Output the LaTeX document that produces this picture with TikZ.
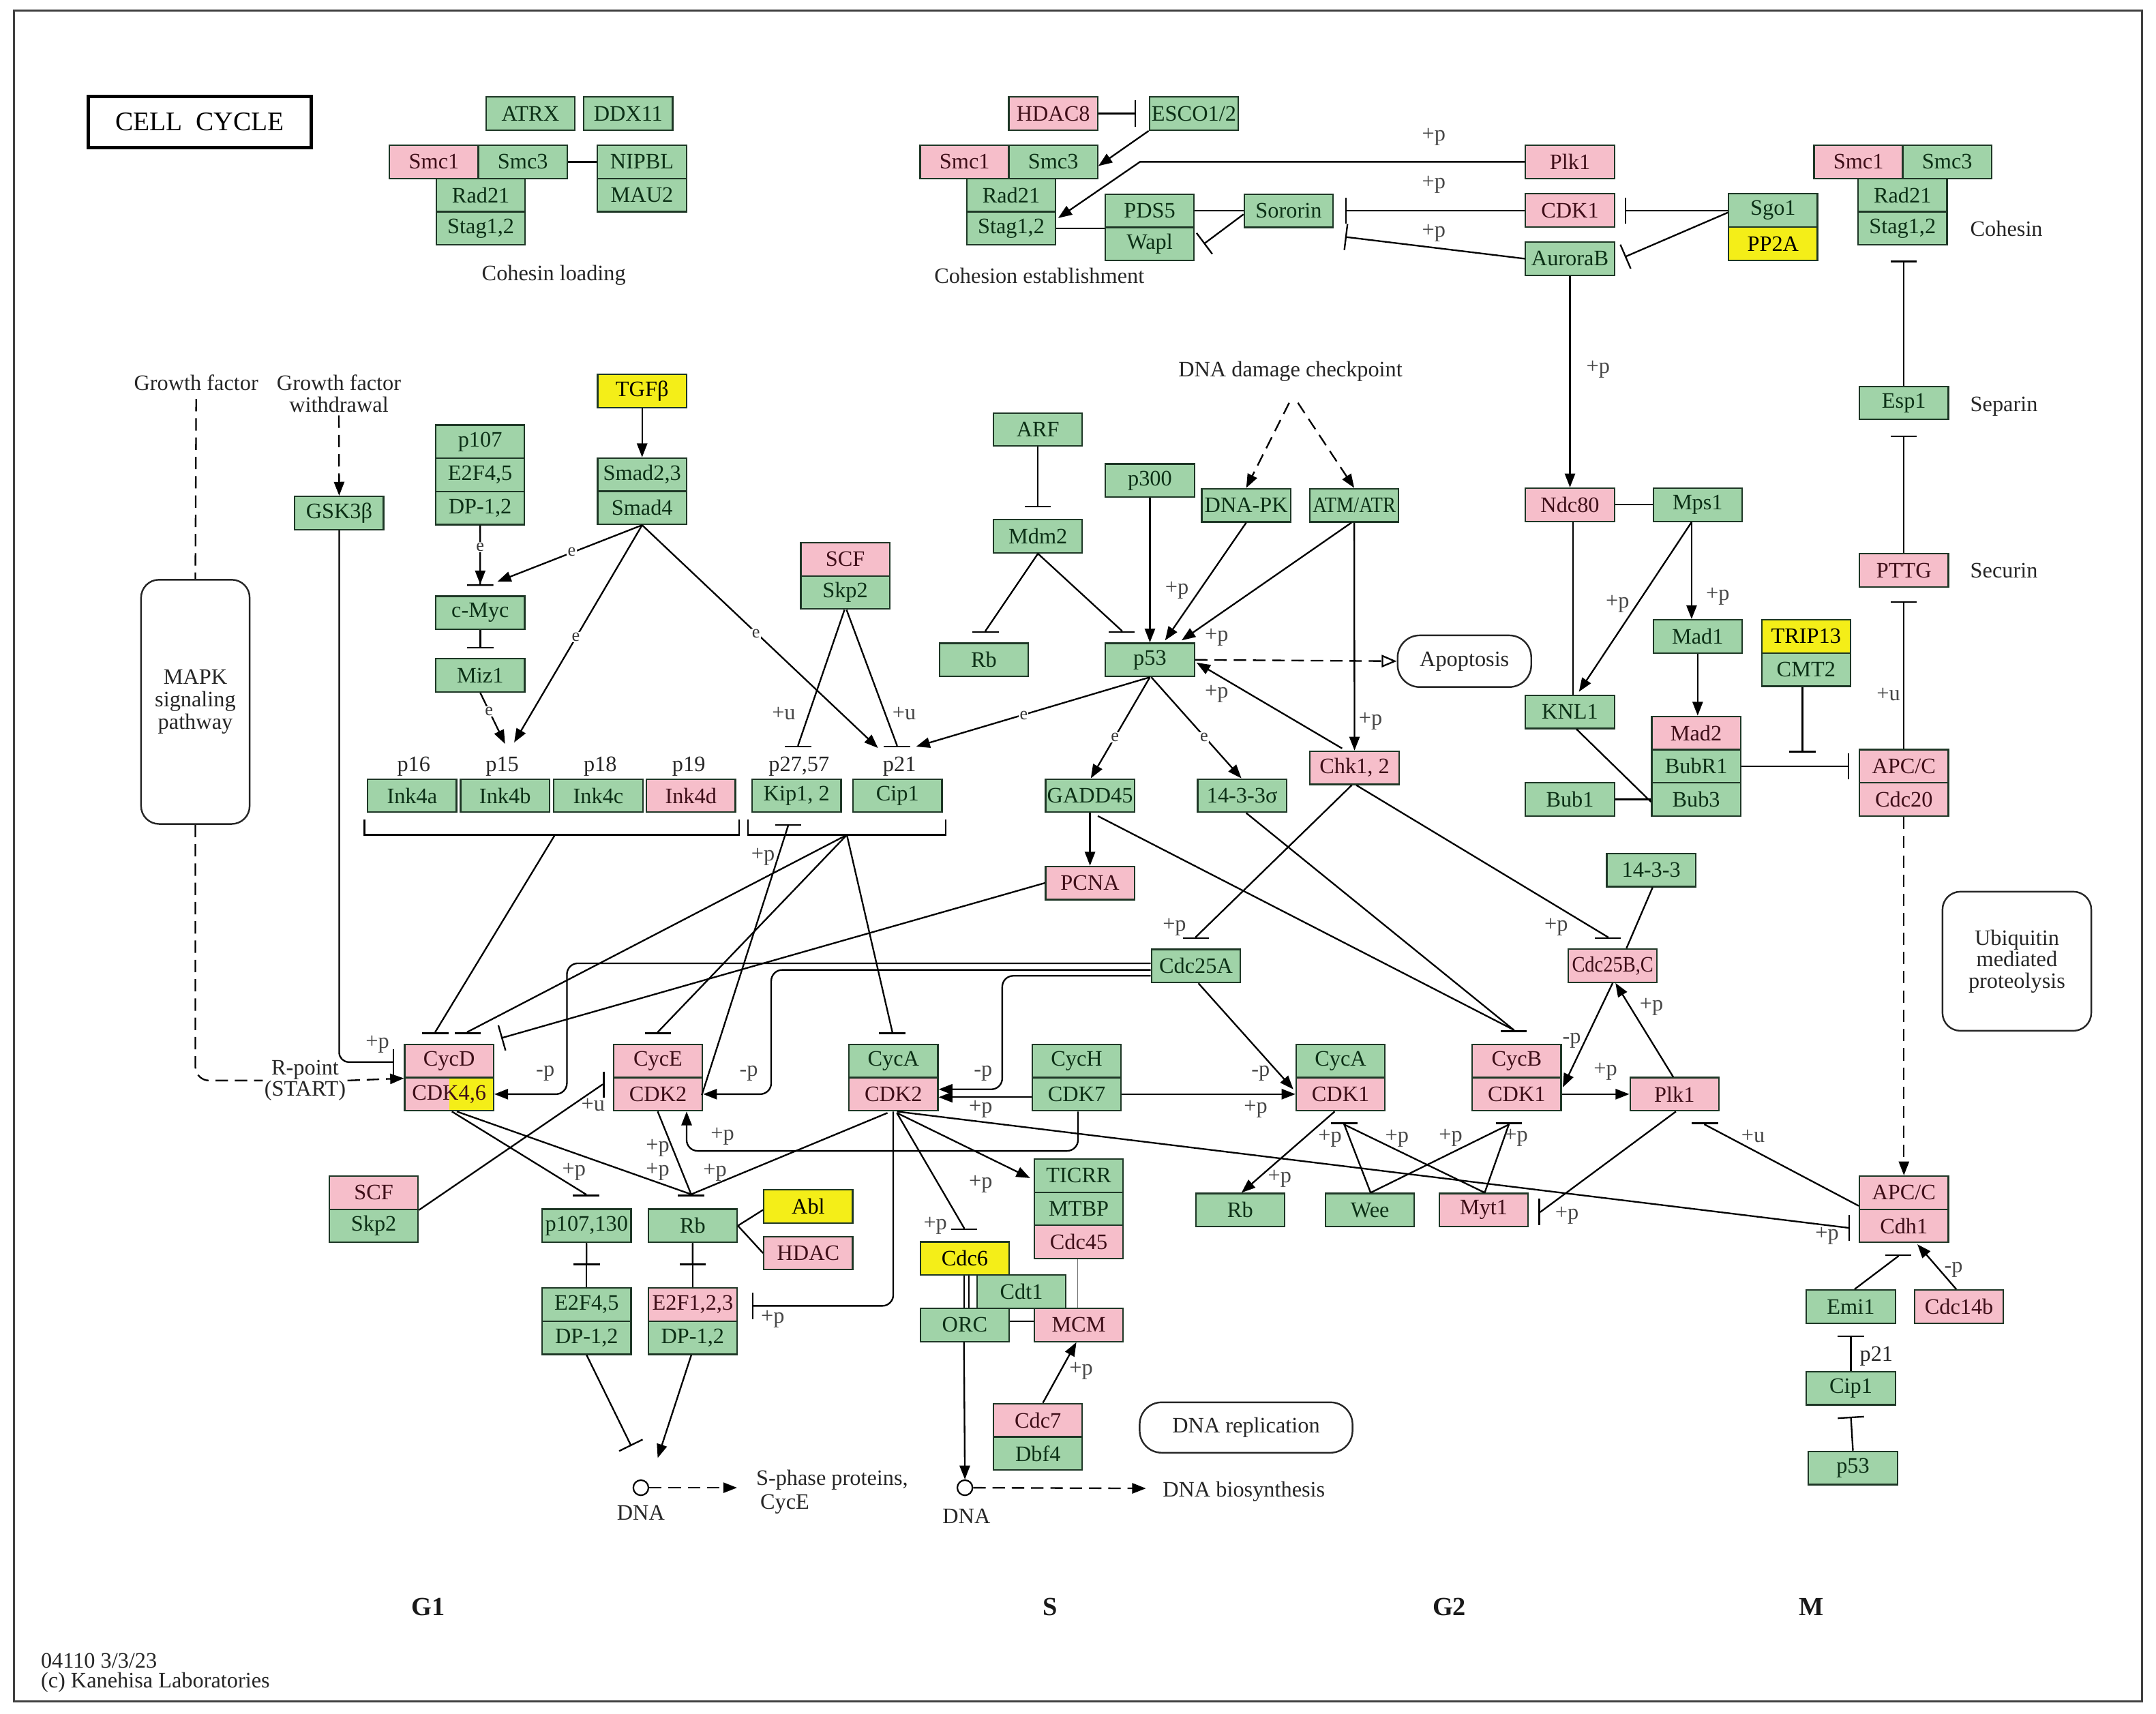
\documentclass[tikz,border=0pt]{standalone}
\usepackage{fontspec}
\setmainfont{Liberation Serif}
\usepackage{graphicx}
\usetikzlibrary{arrows.meta,calc}
\definecolor{gfill}{RGB}{160,211,168}
\definecolor{pfill}{RGB}{246,190,202}
\definecolor{yfill}{RGB}{244,238,24}
\definecolor{bd}{RGB}{30,55,38}
\definecolor{gtx}{RGB}{12,48,22}
\definecolor{ptx}{RGB}{62,14,24}
\newcommand\boxfs{\fontsize{16}{16}\selectfont}
\newcommand\ibarT[2]{\draw[inh] #1 -- ($(#2)+(0,-1.5)$) -- (#2);}
\newcommand\ibarB[2]{\draw[inh] #1 -- ($(#2)+(0,1.5)$) -- (#2);}
\newcommand\ibarL[2]{\draw[inh] #1 -- ($(#2)+(-1.5,0)$) -- (#2);}
\newcommand\ibarR[2]{\draw[inh] #1 -- ($(#2)+(1.5,0)$) -- (#2);}
\tikzset{
 bx/.style={draw=bd, line width=1.1pt, minimum width=64.5pt, minimum height=24.1pt, inner sep=0pt, font=\boxfs},
 gbx/.style={bx, fill=gfill, text=gtx},
 pbx/.style={bx, fill=pfill, text=ptx},
 ybx/.style={bx, fill=yfill, text=black},
 ed/.style={line width=1.15pt, draw=black},
 act/.style={ed, -{Triangle[length=10pt,width=7.5pt]}},
 inh/.style={ed, -{Bar[width=19pt]}},
 apo/.style={ed, -{Triangle[open,length=11pt,width=9pt]}},
 dsh/.style={dash pattern=on 9pt off 5pt},
 lab/.style={font=\boxfs, text=black!72, inner sep=0pt},
 el/.style={font=\fontsize{13}{13}\selectfont, text=black!78, fill=white, inner sep=0.6pt},
 txt/.style={font=\boxfs, text=black!85, inner sep=0pt, align=center},
 rbox/.style={draw=black!85, line width=1.2pt, rounded corners=13pt, font=\fontsize{16}{16.4}\selectfont, text=black!85, align=center, inner sep=0pt},
 phase/.style={font=\fontsize{19}{19}\selectfont\bfseries, text=black!90, inner sep=0pt},
}
\begin{document}
\begin{tikzpicture}[x=1pt,y=-1pt]
\useasboundingbox (0,0) rectangle (1565,1243.8);
\draw[line width=1.4pt, black!75] (10,7.5) rectangle (1555,1235);
\node[draw=black, line width=2.5pt, minimum width=162pt, minimum height=37pt, inner sep=0pt, font=\fontsize{19.5}{20}\selectfont] (title) at (145,88.5) {CELL\ \ CYCLE};

% ---------- cohesin loading
\node[gbx] (atrx) at (385,82.4) {ATRX};
\node[gbx] (ddx) at (456,82.4) {DDX11};
\node[pbx] (smcA) at (315,117.5) {Smc1};
\node[gbx] (smcB) at (379.5,117.5) {Smc3};
\node[gbx] (radA) at (349,141.6) {Rad21};
\node[gbx] (stagA) at (349,165.7) {Stag1,2};
\node[gbx] (nipbl) at (466,117.5) {NIPBL};
\node[gbx] (mau) at (466,141.6) {MAU2};
\node[txt] (tcl) at (402,200) {Cohesin loading};

% ---------- cohesion establishment
\node[pbx] (hdac8) at (764.5,82.4) {HDAC8};
\node[gbx] (esco) at (866.6,82.4) {ESCO1/2};
\node[pbx] (smcC) at (700.2,117.5) {Smc1};
\node[gbx] (smcD) at (764.5,117.5) {Smc3};
\node[gbx] (radB) at (734,141.6) {Rad21};
\node[gbx] (stagB) at (734,165.7) {Stag1,2};
\node[gbx] (pds5) at (834.5,153) {PDS5};
\node[gbx] (wapl) at (834.5,177.1) {Wapl};
\node[gbx] (soro) at (935.4,153) {Sororin};
\node[txt] (tce) at (754.4,200) {Cohesion establishment};

% ---------- top right
\node[pbx] (plkT) at (1139.6,117.5) {Plk1};
\node[pbx] (cdk1T) at (1139.6,152.8) {CDK1};
\node[gbx] (aurB) at (1139.6,187.8) {AuroraB};
\node[gbx] (sgo) at (1287,152.8) {Sgo1};
\node[ybx] (pp2a) at (1287,176.9) {PP2A};
\node[pbx] (smcE) at (1349,117.5) {Smc1};
\node[gbx] (smcF) at (1413.4,117.5) {Smc3};
\node[gbx] (radC) at (1381,141.6) {Rad21};
\node[gbx] (stagC) at (1381,165.7) {Stag1,2};
\node[txt, anchor=west] (tcoh) at (1430,166) {Cohesin};
\node[gbx] (esp) at (1382,292.5) {Esp1};
\node[txt, anchor=west] (tsep) at (1430,295) {Separin};
\node[pbx] (pttg) at (1382,414) {PTTG};
\node[txt, anchor=west] (tsec) at (1430,414) {Securin};

\node[pbx] (ndc) at (1139.6,366.4) {Ndc80};
\node[gbx] (mps) at (1232.3,366.4) {Mps1};
\node[gbx] (mad1) at (1232.3,462) {Mad1};
\node[ybx] (trip) at (1311,462) {TRIP13};
\node[gbx] (cmt) at (1311,486.1) {CMT2};
\node[gbx] (knl) at (1139.6,516.8) {KNL1};
\node[pbx] (mad2) at (1231.2,532.1) {Mad2};
\node[gbx] (bubr) at (1231.2,556.2) {BubR1};
\node[gbx] (bub3) at (1231.2,580.3) {Bub3};
\node[gbx] (bub1) at (1139.6,580.3) {Bub1};
\node[pbx] (apcA) at (1382,556.2) {APC/C};
\node[pbx] (cdc20) at (1382,580.3) {Cdc20};
\node[rbox, minimum width=97pt, minimum height=37.5pt, rounded corners=16pt] (apop) at (1063,480) {Apoptosis};
\node[rbox, minimum width=108pt, minimum height=101pt, font=\fontsize{16}{15.6}\selectfont] (ubi) at (1464,697.8) {Ubiquitin\\mediated\\proteolysis};

% ---------- left
\node[txt] (gf) at (142.4,277.7) {Growth factor};
\node[txt, font=\fontsize{16}{16.1}\selectfont] (gfw) at (246,285.7) {Growth factor\\withdrawal};
\node[rbox, minimum width=78.8pt, minimum height=177.3pt] (mapk) at (141.8,509.5) {MAPK\\signaling\\pathway};
\node[gbx] (gsk) at (246.2,372.4) {GSK3β};
\node[ybx] (tgfb) at (466.1,283.9) {TGFβ};
\node[gbx] (smad23) at (466.1,344.5) {Smad2,3};
\node[gbx] (smad4) at (466.1,368.6) {Smad4};
\node[gbx] (p107u) at (348.5,320.6) {p107};
\node[gbx] (e2f45u) at (348.5,344.7) {E2F4,5};
\node[gbx] (dpu) at (348.5,368.8) {DP-1,2};
\node[gbx] (cmyc) at (348.6,444.9) {c-Myc};
\node[gbx] (miz) at (348.6,490.3) {Miz1};
\node[txt, font=\fontsize{16}{15.6}\selectfont, inner sep=1pt] (rpt) at (221.5,784.4) {R-point\\(START)};

% ---------- middle upper
\node[pbx] (scfU) at (613.5,406) {SCF};
\node[gbx] (skpU) at (613.5,430.1) {Skp2};
\node[gbx] (ink4a) at (299.1,577.6) {Ink4a};
\node[gbx] (ink4b) at (366.6,577.6) {Ink4b};
\node[gbx] (ink4c) at (434.3,577.6) {Ink4c};
\node[pbx] (ink4d) at (501.5,577.6) {Ink4d};
\node[gbx] (kip) at (578.2,577.6) {Kip1, 2};
\node[gbx] (cip) at (651.5,577.6) {Cip1};
\node[txt] (t16) at (300.3,556.4) {p16};
\node[txt] (t15) at (364.6,556.4) {p15};
\node[txt] (t18) at (435.7,556.4) {p18};
\node[txt] (t19) at (500,556.4) {p19};
\node[txt] (t27) at (580,556.4) {p27,57};
\node[txt] (t21) at (652.9,556.4) {p21};
\node[gbx] (gadd) at (791.2,577.6) {GADD45};
\node[pbx] (pcna) at (791.2,641) {PCNA};
\node[gbx] (k1433s) at (901.6,577.6) {14-3-3σ};
\node[gbx] (rbM) at (714.2,479) {Rb};
\node[gbx] (p53) at (834.7,479) {p53};
\node[gbx] (mdm2) at (753.4,389.3) {Mdm2};
\node[gbx] (arf) at (753.4,311.8) {ARF};
\node[gbx] (p300) at (834.7,348.8) {p300};
\node[gbx] (dnapk) at (904.6,366.8) {DNA-PK};
\node[gbx] (atm) at (983,366.8) {\scalebox{0.88}[1]{ATM/ATR}};
\node[pbx] (chk) at (983.2,557.4) {Chk1, 2};
\node[gbx] (cdc25a) at (868.1,701.2) {Cdc25A};
\node[txt] (ddc) at (936.7,269.6) {DNA damage checkpoint};
\coordinate (ddcA) at (935.8,292.4);
\coordinate (ddcB) at (942.1,292.4);

% ---------- CDK complexes
\node[pbx] (cycD) at (326,770.2) {CycD};
\node[bx, text=ptx, path picture={
  \fill[pfill] (path picture bounding box.south west) rectangle (path picture bounding box.north);
  \fill[yfill] (path picture bounding box.south) rectangle (path picture bounding box.north east);}] (cdk46) at (326,794.3) {CDK4,6};
\node[pbx] (cycE) at (477.6,770.2) {CycE};
\node[pbx] (cdk2E) at (477.6,794.3) {CDK2};
\node[gbx] (cycAs) at (648.5,770.2) {CycA};
\node[pbx] (cdk2S) at (648.5,794.3) {CDK2};
\node[gbx] (cycH) at (781.5,770.2) {CycH};
\node[gbx] (cdk7) at (781.5,794.3) {CDK7};
\node[gbx] (cycAg) at (973.1,770.2) {CycA};
\node[pbx] (cdk1A) at (973.1,794.3) {CDK1};
\node[pbx] (cycB) at (1100.9,770.2) {CycB};
\node[pbx] (cdk1B) at (1100.9,794.3) {CDK1};
\node[pbx] (plkB) at (1215.5,794.3) {Plk1};
\node[gbx] (k1433) at (1198.6,631.6) {14-3-3};
\node[pbx] (cdc25bc) at (1170.6,701) {\scalebox{0.88}[1]{Cdc25B,C}};

% ---------- lower
\node[pbx] (scfL) at (271.3,865.8) {SCF};
\node[gbx] (skpL) at (271.3,889.9) {Skp2};
\node[gbx] (p107) at (425.8,889.8) {p107,130};
\node[gbx] (rbG1) at (502.8,889.8) {Rb};
\node[gbx] (e2f45) at (425.8,947) {E2F4,5};
\node[gbx] (dpA) at (425.8,971.1) {DP-1,2};
\node[pbx] (e2f123) at (502.8,947) {E2F1,2,3};
\node[gbx] (dpB) at (502.8,971.1) {DP-1,2};
\node[ybx] (abl) at (586.7,875.7) {Abl};
\node[pbx] (hdac) at (586.7,909.7) {HDAC};
\node[gbx] (ticrr) at (783,853.4) {TICRR};
\node[gbx] (mtbp) at (783,877.5) {MTBP};
\node[pbx] (cdc45) at (783,901.6) {Cdc45};
\node[ybx] (cdc6) at (700.3,913.6) {Cdc6};
\node[gbx] (cdt1) at (741.4,937.7) {Cdt1};
\node[gbx] (orc) at (700.3,961.8) {ORC};
\node[pbx] (mcm) at (783,961.8) {MCM};
\node[pbx] (cdc7) at (753.4,1031) {Cdc7};
\node[gbx] (dbf4) at (753.4,1055.1) {Dbf4};
\node[rbox, minimum width=154.5pt, minimum height=36.6pt, rounded corners=16pt] (dnarep) at (904.5,1036.3) {DNA replication};
\node[gbx] (rbG2) at (900.2,878.4) {Rb};
\node[gbx] (wee) at (994.4,878.4) {Wee};
\node[pbx] (myt) at (1077,878.4) {Myt1};
\node[pbx] (apcB) at (1382,865.8) {APC/C};
\node[pbx] (cdh1) at (1382,889.9) {Cdh1};
\node[gbx] (emi) at (1343.5,948.5) {Emi1};
\node[pbx] (cdc14) at (1422,948.5) {Cdc14b};
\node[gbx] (cipM) at (1343.5,1007.8) {Cip1};
\node[txt] (t21M) at (1362,984.3) {p21};
\node[gbx] (p53M) at (1345,1065.7) {p53};

\node[circle, draw=black, line width=1.1pt, minimum size=11pt, inner sep=0pt] (dnaG) at (465.2,1080) {};
\node[txt] (tdnaG) at (465.2,1098) {DNA};
\node[circle, draw=black, line width=1.1pt, minimum size=11pt, inner sep=0pt] (dnaS) at (700.4,1080) {};
\node[txt] (tdnaS) at (701.5,1100.7) {DNA};
\node[txt, anchor=west, align=left, font=\fontsize{16}{17.3}\selectfont] (sph) at (548.7,1083) {S-phase proteins,\\\hspace{3pt}CycE};
\coordinate (sphin) at (535,1080);
\node[txt, anchor=west] (dnab) at (843.8,1083) {DNA biosynthesis};

\node[phase] (g1) at (310.7,1166.5) {G1};
\node[phase] (ps) at (762.2,1166.5) {S};
\node[phase] (g2) at (1052,1166.5) {G2};
\node[phase] (pm) at (1314.6,1166.5) {M};
\node[txt, anchor=west] (foot1) at (29.5,1205.4) {04110 3/3/23};
\node[txt, anchor=west] (foot2) at (29.5,1221.2) {(c) Kanehisa Laboratories};

% ---------- brackets
\draw[ed] (264.6,594.8) -- (264.6,606.1) -- (536.4,606.1) -- (536.4,594.8);
\draw[ed] (542.8,594.8) -- (542.8,606.1) -- (686.5,606.1) -- (686.5,594.8);
\coordinate (ink4br) at (402.8,606.1);
\coordinate (kipbr) at (614.7,606.1);

% ---------- edges: cohesin
\draw[ed] (smcB.east) -- (nipbl.west);
\draw[inh] (hdac8.east) -- ($(esco.west)+(-9,0)$);
\draw[act] (esco.south west) -- ($(smcD.east)+(0,3)$);
\draw[act] (plkT.west) -- (827.5,117.5) -- ($(stagB.east)+(1.3,-7.4)$);
\draw[ed] (stagB.east) -- (stagB.east -| pds5.west);
\draw[ed] (pds5.east) -- (soro.west);
\draw[inh] ($(soro.west)+(0,2.6)$) -- ($(wapl.east)+(6.5,0)$);
\draw[inh] (cdk1T.west) -- ($(soro.east)+(8.2,-0.2)$);
\draw[inh] (aurB.west) -- ($(soro.east)+(8.2,19)$);
\draw[inh] (sgo.west) -- ($(cdk1T.east)+(7,0)$);
\draw[inh] ($(sgo.west)+(0,1.5)$) -- ($(aurB.east)+(7,-1.3)$);
\draw[act] (aurB.south) -- (ndc.north);
\draw[inh] (esp.north) -- ($(stagC.south)+(1,11)$);
\draw[inh] (pttg.north) -- ($(esp.south)+(0,11)$);
\draw[inh] (apcA.north) -- ($(pttg.south)+(0,10)$);

% ---------- spindle checkpoint
\draw[ed] (ndc.east) -- (mps.west);
\draw[act] ($(mps.south)+(-4.4,0)$) -- ($(mad1.north)+(-4.4,0)$);
\draw[act] ($(mps.south)+(-4.4,0)$) -- ($(knl.north)+(6.5,-2)$);
\draw[ed] ($(ndc.south)+(2.3,0)$) -- ($(knl.north)+(2.3,0)$);
\draw[act] (mad1.south) -- (mad1.south |- mad2.north);
\draw[inh] ($(cmt.south)+(-2.7,0)$) -- ($(cmt.south)+(-2.7,47.5)$);
\draw[inh] (bubr.east) -- ($(apcA.west)+(-7,0)$);
\draw[ed] (bub1.east) -- (bub3.west);
\draw[ed] ($(knl.south)+(4.8,0)$) -- ($(bub3.west)+(0,1.8)$);
\draw[apo, dsh] (p53.east) -- (apop.west);
\draw[act, dsh] (cdc20.south) -- (apcB.north);

% ---------- G2/M
\draw[ed] ($(k1433.south)+(1,0)$) -- ($(cdc25bc.north)+(10,0)$);
\coordinate (bp25bc) at ($(cdc25bc.north)+(-3.6,-6.7)$);
\ibarT{($(chk.south)+(1.3,0)$)}{bp25bc}
\draw[act] (cdc25bc.south) -- ($(cdk1B.east)+(0.7,-5)$);
\draw[act] ($(plkB.north)+(-1,0)$) -- ($(cdc25bc.south)+(2,0)$);
\draw[act] (cdk1B.east) -- (plkB.west);
\coordinate (bpCycB) at ($(cycB.north)+(-2.2,-8.5)$);
\ibarT{($(k1433s.south)+(3,0)$)}{bpCycB}
\ibarT{($(gadd.south)+(5.7,2.2)$)}{bpCycB}
\coordinate (bpPlk) at ($(plkB.south)+(22,8)$);
\ibarB{($(apcB.west)+(0,9.6)$)}{bpPlk}
\coordinate (bpCdh) at ($(cdh1.west)+(-6.3,1.4)$);
\ibarL{($(cdk2S.south)+(2.6,0)$)}{bpCdh}
\coordinate (bpMyt) at ($(myt.east)+(7,1.3)$);
\ibarR{($(plkB.south)+(1,0)$)}{bpMyt}
\coordinate (bpCkB) at ($(cdk1B.south)+(-5.7,8)$);
\coordinate (bpCkA) at ($(cdk1A.south)+(2.7,8)$);
\ibarB{($(myt.north)+(0.7,0)$)}{bpCkB}
\ibarB{($(wee.north)+(0.5,0)$)}{bpCkB}
\ibarB{($(wee.north)+(0.5,0)$)}{bpCkA}
\ibarB{($(myt.north)+(0.7,0)$)}{bpCkA}
\coordinate (bpCdhB) at ($(cdh1.south)+(-4.2,8)$);
\ibarB{($(emi.north)+(2.7,0)$)}{bpCdhB}
\draw[act] ($(cdc14.north)+(-2,0)$) -- ($(cdh1.south)+(9.8,0.8)$);
\draw[inh] (cipM.north) -- ($(emi.south)+(0,8.5)$);
\draw[inh] (p53M.north) -- ($(cipM.south)+(0,8)$);

% ---------- CDK activation
\draw[act] (cdk7.east) -- (cdk1A.west);
\draw[act] ($(cdk7.west)+(0,2.2)$) -- ($(cdk2S.east)+(0,2.2)$);
\draw[act, rounded corners=8pt] ($(cdc25a.west)+(0,-1.9)$) -| ($(cdk46.east)+(52.7,0)$) -- (cdk46.east);
\draw[act, rounded corners=8pt] ($(cdc25a.west)+(0,2.9)$) -| ($(cdk2E.east)+(49.4,0)$) -- (cdk2E.east);
\draw[act, rounded corners=8pt] ($(cdc25a.west)+(0,7.2)$) -| ($(cdk2S.east)+(46.2,-3.5)$) -- ($(cdk2S.east)+(0,-3.5)$);
\draw[act] ($(cdc25a.south)+(1.8,0)$) -- ($(cdk1A.west)+(-1.5,-3.5)$);
\draw[act] ($(cdk1A.south)+(-4.3,0)$) -- ($(rbG2.north)+(1,0)$);
\draw[act, rounded corners=8pt] ($(cdk7.south)+(1,0)$) -- ++(0,28.6) -| ($(cdk2E.south)+(20.8,0)$);

% ---------- G1
\coordinate (bp107) at ($(p107.north)+(-0.5,-8.7)$);
\coordinate (bpRb) at ($(rbG1.north)+(-1.1,-8.7)$);
\ibarT{($(cdk46.south)+(2,0)$)}{bp107}
\ibarT{($(cdk46.south)+(5.6,0)$)}{bpRb}
\ibarT{($(cdk2E.south)+(-0.2,0)$)}{bpRb}
\ibarT{($(cdk2S.south)+(-4.3,1)$)}{bpRb}
\coordinate (bpE2) at ($(cycE.south west)+(-6,4.5)$);
\ibarL{(scfL.south east)}{bpE2}
\draw[ed] (p107.south) -- (e2f45.north);
\draw[inh] (p107.south) -- ($(p107.south)!0.5!(e2f45.north)$);
\draw[ed] (rbG1.south) -- (e2f123.north);
\draw[inh] (rbG1.south) -- ($(rbG1.south)!0.5!(e2f123.north)$);
\draw[inh] (dpA.south) -- ($(dnaG)+(-7,-30.3)$);
\draw[act] ($(dpB.south)+(-1,0)$) -- ($(dnaG)+(12.2,-21.6)$);
\draw[act, dsh] (dnaG.east) -- (sphin);
\draw[ed] (rbG1.east) -- ($(abl.west)+(0,2.6)$);
\draw[ed] (rbG1.east) -- (hdac.west);
\coordinate (bpE2F) at ($(e2f123.east)+(10.3,1)$);
\draw[inh, rounded corners=8pt] ($(cdk2S.south)+(-0.1,0)$) |- (bpE2F);
\draw[act] ($(cdk2S.south)+(2.5,1)$) -- ($(ticrr.west)+(-2.5,1.8)$);
\coordinate (bp6) at ($(cdc6.north)+(-0.6,-8.2)$);
\ibarT{($(cdk2S.south)+(2.5,1)$)}{bp6}
\draw[line width=0.6pt, black!55] ($(cdc45.south)+(-0.6,0)$) -- ($(mcm.north)+(-0.6,0)$);
\draw[ed] ($(cdc6.south)+(-0.6,0)$) -- ($(orc.north)+(-0.6,0)$);
\draw[ed] ($(cdc6.south)+(2.9,0)$) -- ($(orc.north)+(2.9,0)$);
\draw[act] ($(orc.south)+(-0.6,0)$) -- (dnaS.north);
\draw[act, dsh] (dnaS.east) -- ($(dnab.west)+(-12,-2.5)$);
\draw[act] ($(cdc7.north)+(3.6,0)$) -- ($(mcm.south)+(-1.7,0)$);
\draw[ed] ($(orc.east)+(0,-2.5)$) -- ($(mcm.west)+(0,-2.5)$);

% ---------- p53 / DNA damage
\draw[inh] (arf.south) -- ($(mdm2.north)+(0,-8.4)$);
\coordinate (bpRbM) at ($(rbM.north)+(1.2,-7)$);
\coordinate (bpP53) at ($(p53.north)+(-20.4,-7)$);
\ibarT{(mdm2.south)}{bpRbM}
\ibarT{(mdm2.south)}{bpP53}
\draw[act] (p300.south) -- (p53.north);
\draw[act, dsh] (ddcA) -- (dnapk.north);
\draw[act, dsh] (ddcB) -- (atm.north);
\draw[act] (dnapk.south) -- ($(p53.north)+(11,-1.5)$);
\draw[act] ($(atm.south)+(-2,0)$) -- ($(p53.north)+(23,-1.5)$);
\draw[act] (atm.south) -- (chk.north);
\draw[act] ($(chk.north)+(-9,-1.5)$) -- ($(p53.east)+(1,2)$);
\draw[act] (p53.south) -- ($(gadd.north)+(0.6,0)$);
\draw[act] ($(p53.south)+(1,0)$) -- ($(k1433s.north)+(-0.5,0)$);
\draw[act] (gadd.south) -- (pcna.north);
\coordinate (bp25a) at ($(cdc25a.north)+(0,-7)$);
\ibarT{($(chk.south)+(-2,0)$)}{bp25a}
\draw[inh] (pcna.west) -- ($(cycD.north east)+(5,-4)$);

% ---------- CKIs
\coordinate (bpD1) at ($(cycD.north)+(-10,-7)$);
\coordinate (bpD2) at ($(cycD.north)+(13.4,-7)$);
\coordinate (bpE) at ($(cycE.north)+(0,-7)$);
\coordinate (bpAs) at ($(cycAs.north)+(-0.8,-7)$);
\ibarT{(ink4br)}{bpD1}
\ibarT{(kipbr)}{bpD2}
\ibarT{(kipbr)}{bpE}
\ibarT{(kipbr)}{bpAs}
\coordinate (bpKip) at ($(kip.south)+(-6.2,8)$);
\ibarB{($(cdk2E.east)+(-1,0.7)$)}{bpKip}
\coordinate (bpK2) at ($(kip.north)+(1.1,-22.4)$);
\coordinate (bpC1) at ($(cip.north)+(-0.4,-22.4)$);
\ibarT{($(skpU.south)+(-0.5,0)$)}{bpK2}
\ibarT{($(skpU.south)+(1,0)$)}{bpC1}
\draw[act] (smad4.south) -- ($(cip.north)+(-14.2,-22)$);
\draw[act] (p53.south) -- ($(cip.north)+(13.5,-23)$);
\draw[act] (smad4.south) -- ($(ink4b.north)+(6.6,-26)$);
\draw[act] (miz.south) -- ($(ink4b.north)+(0,-25)$);
\draw[act] (smad4.south) -- ($(cmyc.north)+(12.4,-10)$);
\draw[ed, -{Triangle[length=10pt,width=7.5pt] Bar[width=19pt]}] (dpu.south) -- ($(cmyc.north)+(0,-7)$);
\draw[inh] (cmyc.south) -- ($(miz.north)+(0,-7)$);
\draw[act] (tgfb.south) -- (smad23.north);
\coordinate (bpGSK) at ($(cycD.west)+(-7,0.8)$);
\draw[inh, rounded corners=7pt] (gsk.south) |- (bpGSK);
\draw[ed, dsh] ($(gf.south)+(0,6)$) -- (mapk.north);
\draw[act, dsh] ($(gfw.south)+(0,2)$) -- (gsk.north);
\draw[ed, dsh, rounded corners=10pt] (mapk.south) |- (rpt.west);
\draw[act, dsh] (rpt.east) -- (cycD.south west);

% ---------- e labels
\node[el] (e1) at (348.5,397) {e};
\node[el] (e2) at (415,400.5) {e};
\node[el] (e3) at (418,462.7) {e};
\node[el] (e4) at (355,516.6) {e};
\node[el] (e5) at (548.7,460) {e};
\node[el] (e6) at (743.1,519.2) {e};
\node[el] (e7) at (809.3,535.1) {e};
\node[el] (e8) at (874,535.1) {e};

% ---------- +p / -p / +u labels
\node[lab] (l1) at (274,758) {+p};
\node[lab] (l2) at (395.8,779.4) {-p};
\node[lab] (l3) at (430.5,802) {+u};
\node[lab] (l4) at (543.5,779.4) {-p};
\node[lab] (l5) at (553.9,621.8) {+p};
\node[lab] (l6) at (568.9,518) {+u};
\node[lab] (l7) at (656.3,518) {+u};
\node[lab] (l8) at (416.6,850.9) {+p};
\node[lab] (l9) at (477.4,850.9) {+p};
\node[lab] (l10) at (477.4,833.6) {+p};
\node[lab] (l11) at (519,851) {+p};
\node[lab] (l12) at (524.4,825) {+p};
\node[lab] (l13) at (560.9,957.5) {+p};
\node[lab] (l14) at (711.9,805) {+p};
\node[lab] (l15) at (713.6,779.4) {-p};
\node[lab] (l16) at (711.9,859.5) {+p};
\node[lab] (l17) at (678.9,889.8) {+p};
\node[lab] (l18) at (784.8,995) {+p};
\node[lab] (l19) at (915,779.4) {-p};
\node[lab] (l20) at (911.5,805) {+p};
\node[lab] (l21) at (928.9,855.8) {+p};
\node[lab] (l22) at (965.4,826.4) {+p};
\node[lab] (l23) at (1014,826.4) {+p};
\node[lab] (l24) at (1053,826) {+p};
\node[lab] (l25) at (1100.5,825.8) {+p};
\node[lab] (l26) at (1137.4,882.6) {+p};
\node[lab] (l27) at (1165.4,778) {+p};
\node[lab] (l28) at (1140.9,755.3) {-p};
\node[lab] (l29) at (1198.8,731.1) {+p};
\node[lab] (l30) at (1129.6,672.9) {+p};
\node[lab] (l31) at (852.5,672.9) {+p};
\node[lab] (l32) at (854.3,428.6) {+p};
\node[lab] (l33) at (883.1,462.7) {+p};
\node[lab] (l34) at (883.1,503.9) {+p};
\node[lab] (l35) at (994.9,523.7) {+p};
\node[lab] (l36) at (1160,268) {+p};
\node[lab] (l37) at (1174.2,438.5) {+p};
\node[lab] (l38) at (1246.9,432.8) {+p};
\node[lab] (l39) at (1370.8,503.9) {+u};
\node[lab] (l40) at (1272.5,825) {+u};
\node[lab] (l41) at (1326.2,897) {+p};
\node[lab] (l42) at (1418,921.5) {-p};
\node[lab] (l43) at (1040.8,99.3) {+p};
\node[lab] (l44) at (1040.8,134) {+p};
\node[lab] (l45) at (1040.8,169) {+p};
\end{tikzpicture}
\end{document}
